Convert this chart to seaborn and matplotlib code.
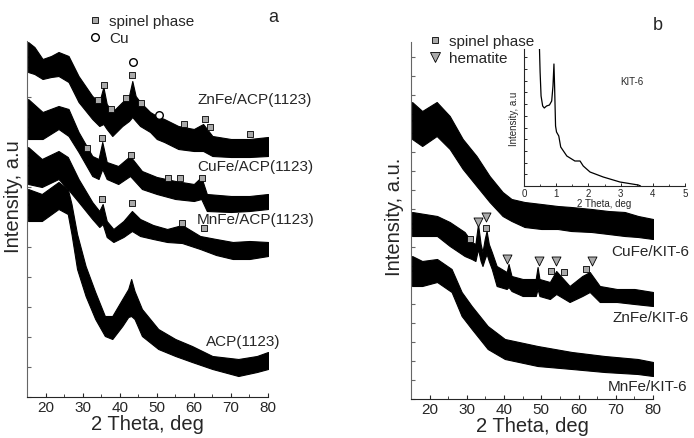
import numpy as np
import pandas as pd
import matplotlib
matplotlib.use("Agg")
import matplotlib.pyplot as plt
from matplotlib.lines import Line2D
from matplotlib.ticker import MultipleLocator, NullFormatter
import seaborn as sns

# ---------------- data: panel a (upper / lower envelope of noisy traces) ----------------
a_znfe_theta = [15.3, 17, 19.2, 21.5, 23.5, 26.2, 28.9, 32.6, 34.5, 35.6, 36.5, 38, 40.7, 42.5, 43.4, 44.3, 45.5, 48.2, 50, 52, 55.8, 60, 62.5, 65, 70, 75, 80]
a_znfe_hi = [355, 350, 338, 341, 345, 341, 321, 301, 295, 310, 293, 285, 295, 301, 316, 301, 295, 285, 281, 278, 271, 268, 273, 261, 258, 258, 260]
a_znfe_lo = [325, 323, 318, 320, 321, 315, 295, 278, 271, 273, 268, 261, 271, 276, 280, 276, 271, 265, 258, 255, 248, 246, 246, 241, 240, 240, 241]

a_cufe_theta = [15.3, 19.2, 23.5, 26.2, 28.9, 32.6, 34.3, 35.3, 36.5, 39.6, 42.8, 46, 50, 55, 60, 62, 63.5, 70, 75, 80]
a_cufe_hi = [298, 285, 291, 288, 265, 241, 238, 255, 235, 231, 241, 226, 220, 216, 213, 220, 203, 201, 201, 203]
a_cufe_lo = [258, 258, 268, 261, 245, 221, 218, 228, 218, 213, 221, 208, 203, 198, 196, 198, 186, 185, 186, 188]

a_mnfe_theta = [15.3, 19, 23.5, 26, 28.9, 32.6, 34.5, 35.4, 36.5, 38.3, 41, 43.3, 45.5, 49, 52.8, 56.8, 61.7, 66, 70.5, 75, 80]
a_mnfe_hi = [250, 238, 246, 240, 218, 195, 186, 193, 176, 168, 176, 186, 178, 172, 168, 172, 161, 158, 155, 156, 155]
a_mnfe_lo = [213, 210, 218, 208, 195, 178, 170, 173, 160, 155, 160, 166, 161, 158, 155, 154, 148, 142, 138, 138, 141]

a_acp_theta = [15.3, 19, 23.5, 26, 27, 28.5, 30.8, 33.4, 36, 38, 40.7, 42.3, 43.1, 44, 46, 50.4, 55, 59.5, 65, 72, 77, 80]
a_acp_hi = [208, 203, 215, 208, 193, 163, 131, 105, 81, 81, 98, 108, 118, 106, 88, 68, 58, 51, 41, 38, 41, 45]
a_acp_lo = [176, 176, 188, 183, 163, 128, 101, 78, 61, 58, 71, 80, 81, 78, 61, 48, 41, 35, 28, 21, 25, 28]

a_spinel_theta = [43.4, 35.9, 34.2, 37.7, 41.8, 45.8, 57.3, 63.0, 64.4, 75.1,
                  35.3, 31.3, 43.1, 53.1, 56.3, 62.2,
                  35.3, 43.4, 56.8, 62.7]
a_spinel_y = [322, 312, 297, 288, 299, 294, 273, 278, 270, 263,
              259, 249, 242, 219, 219, 219,
              198, 194, 174, 169]
a_cu_theta = [43.7, 50.6]
a_cu_y = [335, 282]

a_labels = ["ZnFe/ACP(1123)", "CuFe/ACP(1123)", "MnFe/ACP(1123)", "ACP(1123)"]
a_label_theta = [60.9, 60.9, 60.9, 63.3]
a_label_y = [298, 231, 178, 56]

# ---------------- data: panel b ----------------
b_cufe_theta = [15.3, 18, 21.9, 25.4, 28.9, 32.6, 36.1, 39.6, 42, 45.5, 50, 54.4, 58, 63.5, 68, 72.4, 76, 80]
b_cufe_hi = [297, 288, 297, 283, 260, 243, 223, 207, 200, 197, 195, 193, 192, 190, 188, 187, 183, 180]
b_cufe_lo = [260, 253, 263, 250, 230, 213, 197, 183, 178, 172, 170, 170, 168, 167, 165, 163, 162, 160]

b_znfe_theta = [15.3, 22, 25.4, 29.4, 31.3, 32.3, 33, 33.7, 34.2, 34.8, 35.3, 35.9, 36.7, 38, 40.7, 41.2, 42, 45, 48.5, 49, 49.5, 52.3, 54, 57.6, 61, 63, 65.7, 70.3, 75, 80]
b_znfe_hi = [187, 183, 177, 167, 157, 155, 175, 155, 147, 160, 168, 155, 147, 133, 127, 135, 123, 120, 120, 132, 120, 117, 128, 113, 123, 127, 113, 110, 110, 107]
b_znfe_lo = [163, 163, 153, 143, 140, 138, 150, 138, 133, 140, 145, 138, 130, 113, 110, 112, 108, 103, 103, 110, 103, 100, 105, 97, 103, 107, 97, 97, 95, 93]

b_mnfe_theta = [15.3, 18, 22, 25.9, 28.6, 31.3, 35.6, 40.2, 49, 58.2, 67, 75.9, 80]
b_mnfe_hi = [143, 138, 140, 130, 107, 93, 73, 60, 53, 47, 43, 40, 37]
b_mnfe_lo = [113, 113, 117, 107, 83, 70, 50, 40, 33, 30, 27, 25, 23]

b_spinel_theta = [35.1, 30.8, 52.7, 56.1, 61.9]
b_spinel_y = [171, 160, 128, 127, 130]
b_hem_theta = [33.0, 35.2, 40.9, 49.4, 54.0, 63.5]
b_hem_y = [177, 182, 140, 138, 138, 138]

b_labels = ["CuFe/KIT-6", "ZnFe/KIT-6", "MnFe/KIT-6"]
b_label_theta = [68.9, 69.2, 67.8]
b_label_y = [148, 82, 13]

# inset (KIT-6 low angle)
kit_theta = [0.47, 0.50, 0.53, 0.58, 0.63, 0.70, 0.79, 0.86, 0.90, 0.93, 0.95, 0.98, 1.01, 1.08, 1.14, 1.33, 1.58, 1.74, 1.84, 2.05, 2.46, 2.98, 3.55, 3.62]
kit_y = [150, 114, 90, 80, 78, 80, 81, 85, 100, 122, 100, 60, 54, 50, 39, 30, 25, 25, 20, 14, 9, 4, 1, 0]

# ---------------- styling ----------------
sns.set_style("ticks")
plt.rcParams['font.family'] = ['Liberation Sans', 'DejaVu Sans']

fig = plt.figure(figsize=(6.94, 4.39), dpi=100)
ax_a = fig.add_axes([27/694, 1-398/439, (268-27)/694, (398-42)/439])
ax_b = fig.add_axes([411/694, 1-400/439, (653-411)/694, (400-43)/439])

SQ = dict(marker='s', s=24, color='#a9a9a9', edgecolor='black', linewidth=0.6, zorder=5)
TRI = dict(marker='v', s=42, color='#a9a9a9', edgecolor='black', linewidth=0.6, zorder=5)


def band(ax, th, hi, lo):
    df = pd.DataFrame({'theta': list(th) + list(th), 'I': list(hi) + list(lo)})
    sns.lineplot(data=df, x='theta', y='I', estimator='mean', errorbar=('pi', 100),
                 color='black', linewidth=1.0,
                 err_kws={'alpha': 1, 'linewidth': 0.8, 'edgecolor': 'black'}, ax=ax)


for th, hi, lo in [(a_znfe_theta, a_znfe_hi, a_znfe_lo), (a_cufe_theta, a_cufe_hi, a_cufe_lo),
                   (a_mnfe_theta, a_mnfe_hi, a_mnfe_lo), (a_acp_theta, a_acp_hi, a_acp_lo)]:
    band(ax_a, th, hi, lo)
sns.scatterplot(x=a_spinel_theta, y=a_spinel_y, ax=ax_a, **SQ)
sns.scatterplot(x=a_cu_theta, y=a_cu_y, marker='o', s=30, facecolor='white',
                edgecolor='black', linewidth=1.0, ax=ax_a, zorder=5)
for t, x, y in zip(a_labels, a_label_theta, a_label_y):
    ax_a.text(x, y, t, fontsize=11, ha='left', va='center', clip_on=False)

for th, hi, lo in [(b_cufe_theta, b_cufe_hi, b_cufe_lo), (b_znfe_theta, b_znfe_hi, b_znfe_lo),
                   (b_mnfe_theta, b_mnfe_hi, b_mnfe_lo)]:
    band(ax_b, th, hi, lo)
sns.scatterplot(x=b_spinel_theta, y=b_spinel_y, ax=ax_b, **SQ)
sns.scatterplot(x=b_hem_theta, y=b_hem_y, ax=ax_b, **TRI)
for t, x, y in zip(b_labels, b_label_theta, b_label_y):
    ax_b.text(x, y, t, fontsize=11, ha='left', va='center', clip_on=False)

for ax, ymax, ystep, ylab, lx, ly in [(ax_a, 356, 30, "Intensity, a.u", -0.018, 0.565),
                                      (ax_b, 357, 19, "Intensity, a.u.", -0.03, 0.513)]:
    ax.set_xlim(15, 80)
    ax.set_ylim(0, ymax)
    sns.despine(ax=ax)
    ax.spines['left'].set_color('#666666')
    ax.set_xticks([20, 30, 40, 50, 60, 70, 80])
    ax.xaxis.set_minor_locator(MultipleLocator(5))
    ax.yaxis.set_major_locator(MultipleLocator(ystep))
    ax.yaxis.set_major_formatter(NullFormatter())
    ax.tick_params(axis='x', direction='in', length=3, labelsize=11, pad=2)
    ax.tick_params(axis='x', which='minor', direction='in', length=2)
    ax.tick_params(axis='y', direction='in', length=3, color='#666666')
    ax.set_xlabel("2 Theta, deg", fontsize=14.5, labelpad=0)
    ax.set_ylabel(ylab, fontsize=14.5)
    ax.yaxis.set_label_coords(lx, ly)
    if ax.get_legend():
        ax.get_legend().remove()

# legends
h_sq = Line2D([], [], marker='s', ls='none', markersize=5, markerfacecolor='#a9a9a9',
              markeredgecolor='black', markeredgewidth=0.6)
h_cu = Line2D([], [], marker='o', ls='none', markersize=5.5, markerfacecolor='white',
              markeredgecolor='black', markeredgewidth=1.0)
h_tri = Line2D([], [], marker='v', ls='none', markersize=6.5, markerfacecolor='#a9a9a9',
               markeredgecolor='black', markeredgewidth=0.6)
fig.legend([h_sq, h_cu], ["spinel phase", "Cu"], loc='upper left',
           bbox_to_anchor=(87/694, 1-15/439), frameon=False, fontsize=11,
           handlelength=1.0, handletextpad=0.45, labelspacing=0.2, borderpad=0, borderaxespad=0)
fig.legend([h_sq, h_tri], ["spinel phase", "hematite"], loc='upper left',
           bbox_to_anchor=(427/694, 1-35/439), frameon=False, fontsize=11,
           handlelength=1.0, handletextpad=0.45, labelspacing=0.2, borderpad=0, borderaxespad=0)

fig.text(273/694, 1-17/439, "a", fontsize=13, ha='center', va='center')
fig.text(658/694, 1-25/439, "b", fontsize=13, ha='center', va='center')

# inset
ax_in = fig.add_axes([524/694, 1-187/439, 161/694, 137/439])
ax_in.patch.set_visible(False)
sns.lineplot(x=kit_theta, y=kit_y, color='black', linewidth=0.9, ax=ax_in)
ax_in.set_xlim(0, 5)
ax_in.set_ylim(0, 137)
sns.despine(ax=ax_in)
ax_in.set_xticks([0, 1, 2, 3, 4, 5])
ax_in.xaxis.set_minor_locator(MultipleLocator(0.5))
ax_in.yaxis.set_major_locator(MultipleLocator(11.7))
ax_in.yaxis.set_major_formatter(NullFormatter())
ax_in.tick_params(axis='both', direction='in', length=2.5, labelsize=7, pad=1.5, width=0.7)
ax_in.tick_params(axis='x', which='minor', direction='in', length=1.5, width=0.6)
for s in ax_in.spines.values():
    s.set_linewidth(0.8)
ax_in.set_xlabel("2 Theta, deg", fontsize=7, labelpad=0)
ax_in.set_ylabel("Intensity, a.u", fontsize=7, labelpad=2)
ax_in.text(3.35, 105, "KIT-6", fontsize=7, ha='center', va='center')

fig.savefig("out.png", dpi=100)
